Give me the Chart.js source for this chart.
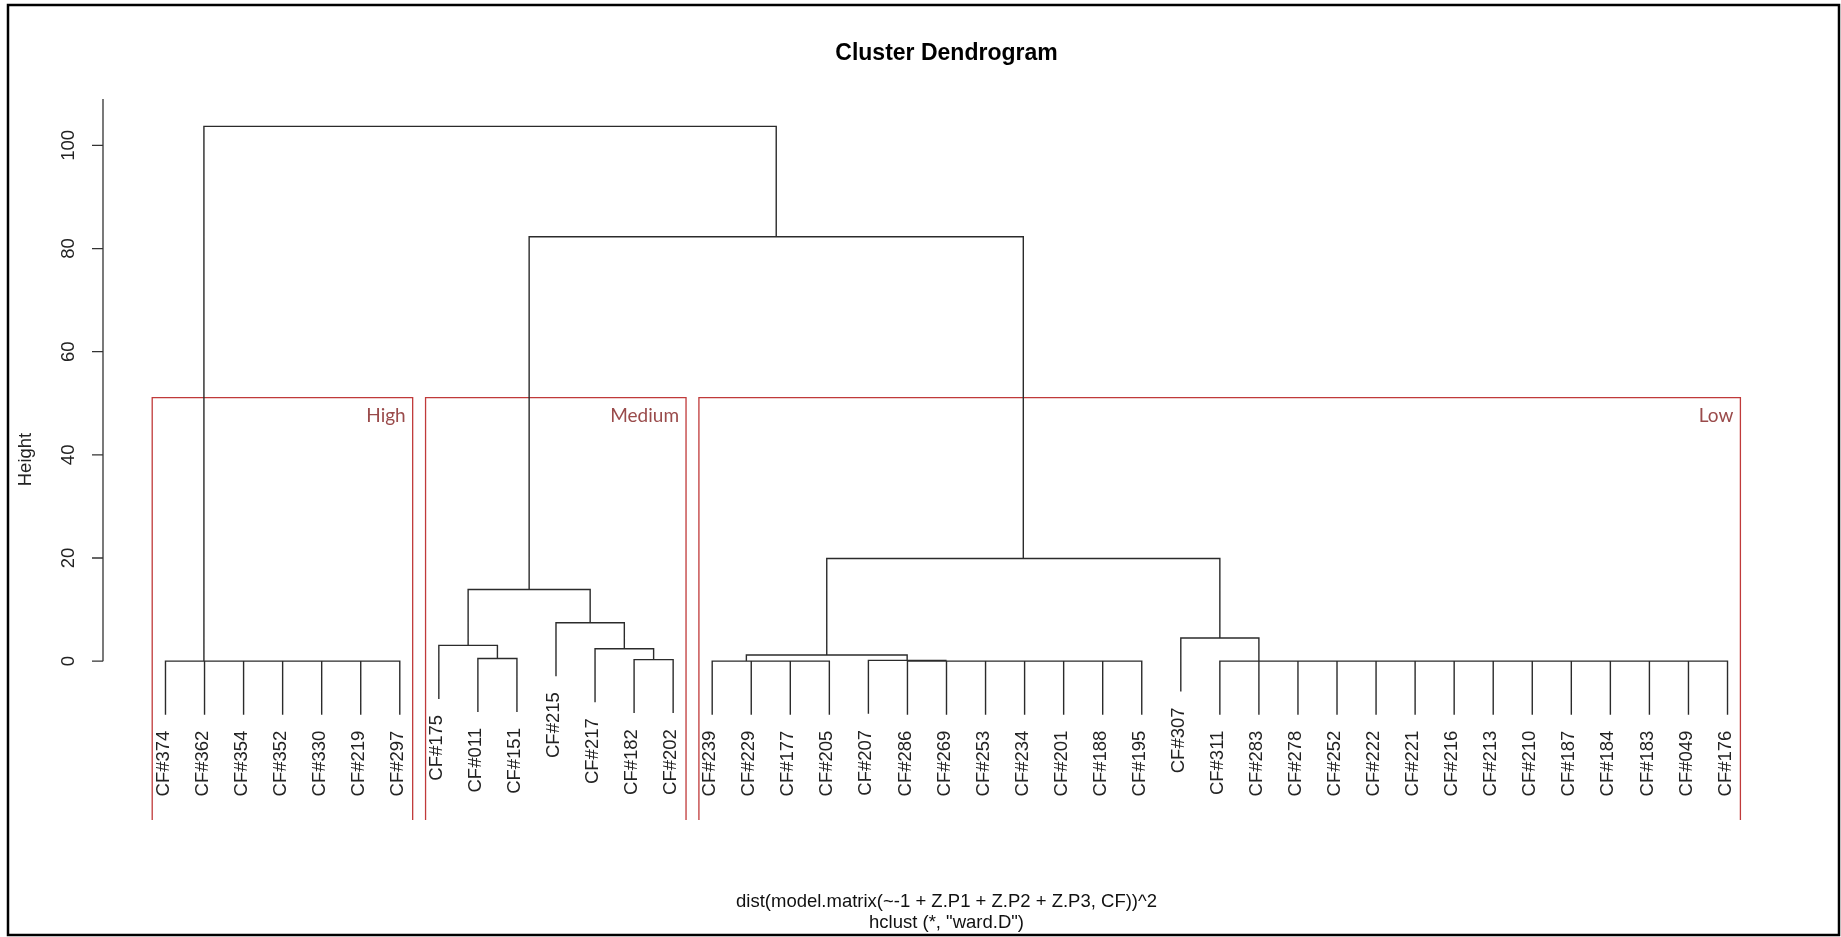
<!DOCTYPE html>
<html>
<head>
<meta charset="utf-8">
<title>Cluster Dendrogram</title>
<script src="https://cdn.jsdelivr.net/npm/chart.js@4.4.1/dist/chart.umd.min.js"></script>
<style>
  html, body { margin: 0; padding: 0; background: #fff; }
  #wrap { width: 1841px; height: 937px; position: relative; }
</style>
</head>
<body>
<div id="wrap"><canvas id="dendro"></canvas></div>
<script>
// leaves, left to right, as they appear under the tree
const leafLabels = [
    "CF#374", "CF#362", "CF#354", "CF#352", "CF#330", "CF#219", "CF#297",
    "CF#175", "CF#011", "CF#151", "CF#215", "CF#217", "CF#182", "CF#202",
    "CF#239", "CF#229", "CF#177", "CF#205", "CF#207", "CF#286", "CF#269",
    "CF#253", "CF#234", "CF#201", "CF#188", "CF#195", "CF#307", "CF#311",
    "CF#283", "CF#278", "CF#252", "CF#222", "CF#221", "CF#216", "CF#213",
    "CF#210", "CF#187", "CF#184", "CF#183", "CF#049", "CF#176"
];

// hclust-style merge table: negative = leaf position, positive = earlier merge (1-based)
const mergePairs = [
    [-6, -7], [-5, 1], [-4, 2], [-3, 3], [-2, 4], [-1, 5],
    [-13, -14], [-9, -10], [-12, 7], [-8, 8], [-11, 9], [10, 11],
    [-17, -18], [-16, 13], [-15, 14],
    [-25, -26], [-24, 16], [-23, 17], [-22, 18], [-21, 19], [-20, 20], [-19, 21],
    [15, 22],
    [-40, -41], [-39, 24], [-38, 25], [-37, 26], [-36, 27], [-35, 28], [-34, 29],
    [-33, 30], [-32, 31], [-31, 32], [-30, 33], [-29, 34], [-28, 35],
    [-27, 36], [23, 37], [12, 38], [6, 39]
];
const mergeHeights = [
    0, 0, 0, 0, 0, 0,
    0.3, 0.5, 2.4, 3.05, 7.45, 13.9,
    0, 0, 0,
    0, 0, 0, 0, 0, 0, 0.15,
    1.2,
    0, 0, 0, 0, 0, 0, 0,
    0, 0, 0, 0, 0, 0,
    4.5, 19.9, 82.3, 103.7
];

const yTicks = [0, 20, 40, 60, 80, 100];
const clusterNames = ["High", "Medium", "Low"];
const clusterSizes = [7, 7, 27];

const titleText = "Cluster Dendrogram";
const subLines = ["dist(model.matrix(~-1 + Z.P1 + Z.P2 + Z.P3, CF))^2", "hclust (*, \"ward.D\")"];
const yLabel = "Height";

// ---- tree geometry (in data units) ----
const n = leafLabels.length;
const hMax = Math.max(...mergeHeights);
const hang = 0.1 * (hMax - Math.min(...mergeHeights));
const nodeX = [];
const childX = c => c < 0 ? -c : nodeX[c - 1];
mergePairs.forEach((p, j) => { nodeX[j] = (childX(p[0]) + childX(p[1])) / 2; });

const leafEnd = new Array(n + 1);
const dendroPts = [];
mergePairs.forEach((p, j) => {
    const h = mergeHeights[j];
    const ends = p.map(c => {
        if (c < 0) { leafEnd[-c] = h - hang; return h - hang; }
        return mergeHeights[c - 1];
    });
    const xa = childX(p[0]), xb = childX(p[1]);
    dendroPts.push({ x: xa, y: ends[0] }, { x: xa, y: h }, { x: xb, y: h }, { x: xb, y: ends[1] }, { x: xb, y: null });
});

// rect.hclust(k = 3) boxes
const sortedH = [...mergeHeights].sort((a, b) => b - a);
const k = clusterNames.length;
const cutTop = (sortedH[k - 2] + sortedH[k - 1]) / 2;
const yMin = -30.8, yMax = 109;
const boxPts = [];
let acc = 0;
const boxes = clusterSizes.map(s => {
    const b = { left: acc + 0.66, right: acc + s + 0.33 };
    acc += s;
    boxPts.push({ x: b.left, y: yMin }, { x: b.left, y: cutTop }, { x: b.right, y: cutTop }, { x: b.right, y: yMin }, { x: b.right, y: null });
    return b;
});

const LABEL_FONT = "18.5px 'Liberation Sans', Arial, sans-serif";

const decor = {
    id: "decor",
    afterDraw(chart) {
        const ctx = chart.ctx;
        const xs = chart.scales.x, ys = chart.scales.y;
        const area = chart.chartArea;
        const midX = (area.left + area.right) / 2;
        ctx.save();

        // outer frame
        ctx.strokeStyle = "#000";
        ctx.lineWidth = 2.5;
        ctx.strokeRect(8, 5, 1831, 930);

        // title
        ctx.fillStyle = "#000";
        ctx.font = "bold 23px 'Liberation Sans', Arial, sans-serif";
        ctx.textAlign = "center";
        ctx.textBaseline = "middle";
        ctx.fillText(titleText, midX, 54);

        // y axis
        ctx.strokeStyle = "#333";
        ctx.lineWidth = 1.3;
        ctx.beginPath();
        ctx.moveTo(area.left, ys.getPixelForValue(0));
        ctx.lineTo(area.left, ys.getPixelForValue(yMax));
        yTicks.forEach(t => {
            const py = ys.getPixelForValue(t);
            ctx.moveTo(area.left, py);
            ctx.lineTo(area.left - 11, py);
        });
        ctx.stroke();
        ctx.fillStyle = "#222";
        ctx.font = LABEL_FONT;
        yTicks.forEach(t => {
            ctx.save();
            ctx.translate(69, ys.getPixelForValue(t));
            ctx.rotate(-Math.PI / 2);
            ctx.textAlign = "center";
            ctx.textBaseline = "middle";
            ctx.fillText(String(t), 0, 0);
            ctx.restore();
        });
        ctx.save();
        ctx.translate(26, (area.top + area.bottom) / 2);
        ctx.rotate(-Math.PI / 2);
        ctx.textAlign = "center";
        ctx.textBaseline = "middle";
        ctx.fillText(yLabel, 0, 0);
        ctx.restore();

        // leaf labels
        leafLabels.forEach((lab, i) => {
            ctx.save();
            ctx.translate(xs.getPixelForValue(i + 1) - 2, ys.getPixelForValue(leafEnd[i + 1]) + 16);
            ctx.rotate(-Math.PI / 2);
            ctx.textAlign = "right";
            ctx.textBaseline = "middle";
            ctx.fillText(lab, 0, 0);
            ctx.restore();
        });

        // cluster names
        ctx.fillStyle = "#9a4b4b";
        ctx.font = "19px Lato, 'Open Sans', sans-serif";
        ctx.textAlign = "right";
        ctx.textBaseline = "middle";
        boxes.forEach((b, i) => {
            ctx.fillText(clusterNames[i], xs.getPixelForValue(b.right) - 7, ys.getPixelForValue(cutTop) + 18);
        });

        // sub title
        ctx.fillStyle = "#111";
        ctx.font = LABEL_FONT;
        ctx.textAlign = "center";
        ctx.textBaseline = "middle";
        subLines.forEach((s, i) => {
            ctx.fillText(s, midX, 902 + i * 21);
        });
        ctx.restore();
    }
};

new Chart(document.getElementById("dendro"), {
    type: "line",
    data: {
        datasets: [
            {
                label: "tree",
                data: dendroPts,
                borderColor: "#2b2b2b",
                borderWidth: 1.4,
                pointRadius: 0,
                tension: 0,
                spanGaps: false,
                order: 0
            },
            {
                label: "clusters",
                data: boxPts,
                borderColor: "#c03a3a",
                borderWidth: 1.3,
                pointRadius: 0,
                tension: 0,
                spanGaps: false,
                order: 1
            }
        ]
    },
    options: {
        responsive: true,
        maintainAspectRatio: false,
        animation: false,
        events: [],
        layout: { padding: { left: 103, right: 51, top: 99, bottom: 117 } },
        plugins: {
            legend: { display: false },
            tooltip: { enabled: false }
        },
        scales: {
            x: { type: "linear", min: -0.6, max: n + 1.6, display: false },
            y: { type: "linear", min: yMin, max: yMax, display: false }
        }
    },
    plugins: [decor]
});
</script>
</body>
</html>
